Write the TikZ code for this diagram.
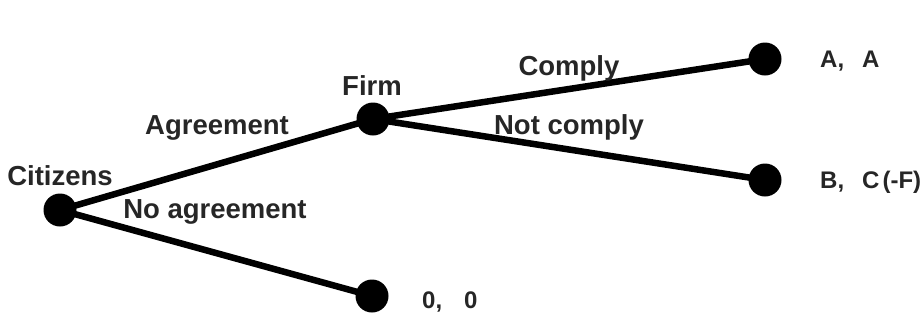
\documentclass[tikz,border=0pt]{standalone}
\usepackage{fontspec}
\setmainfont{Liberation Sans}
\begin{document}
\begin{tikzpicture}[x=1pt,y=-1pt,
  dot/.style={circle,fill=black,inner sep=0pt,minimum size=33pt},
  edge/.style={line width=6.5pt},
  lab/.style={font=\bfseries\fontsize{27.5}{30}\selectfont,inner sep=0pt,text=black!85},
  pay/.style={font=\bfseries\fontsize{24}{28}\selectfont,inner sep=0pt,text=black!85,anchor=west}]
\useasboundingbox (0,0) rectangle (924,322);
\node[dot] (c) at (60,210) {};
\node[dot] (f) at (373,119) {};
\node[dot] (a) at (765,59) {};
\node[dot] (b) at (765,180) {};
\node[dot] (z) at (372,296) {};
\draw[edge] (c.center) -- (f.center);
\draw[edge] (c.center) -- (z.center);
\draw[edge] (f.center) -- (a.center);
\draw[edge] (f.center) -- (b.center);
\node[lab] (tc) at (60,176) {Citizens};
\node[lab] (tf) at (372,86) {Firm};
\node[lab] (tag) at (217,128) {Agreement};
\node[lab] (tna) at (215,212) {No agreement};
\node[lab] (tco) at (569,68) {Comply};
\node[lab] (tnc) at (569,127) {Not comply};
\node[pay] (pa) at (820,61) {A,\hspace{18pt}A};
\node[pay] (pb) at (820,182) {B,\hspace{18pt}C\hspace{3pt}(-F)};
\node[pay] (pz) at (422,302) {0,\hspace{22pt}0};
\end{tikzpicture}
\end{document}
